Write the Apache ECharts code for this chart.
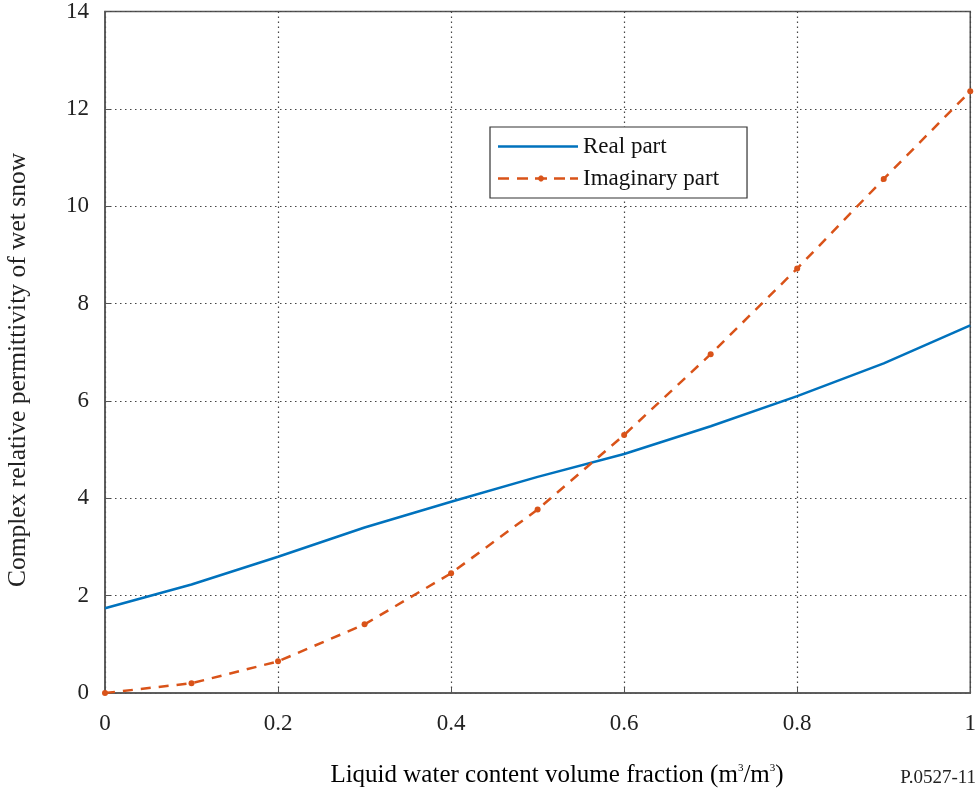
<!DOCTYPE html>
<html>
<head>
<meta charset="utf-8">
<script src="https://cdn.jsdelivr.net/npm/echarts@6/dist/echarts.min.js"></script>
<style>html,body{margin:0;padding:0;background:#fff;}#c{width:979px;height:794px;}</style>
</head>
<body>
<div id="c"></div>
<script>
var xValues = [0, 0.1, 0.2, 0.3, 0.4, 0.5, 0.6, 0.7, 0.8, 0.9, 1.0];
var realPart = [1.74, 2.23, 2.80, 3.40, 3.93, 4.44, 4.91, 5.48, 6.10, 6.77, 7.55];
var imagPart = [0.0, 0.20, 0.65, 1.41, 2.46, 3.77, 5.30, 6.96, 8.72, 10.56, 12.36];
var seriesNames = ['Real part', 'Imaginary part'];

var chart = echarts.init(document.getElementById('c'));
var font = '"Liberation Serif", "Times New Roman", serif';
function pairs(ys){ return xValues.map(function(x,i){ return [x, ys[i]]; }); }
var solidIcon = 'path://M0,0L0,0M80,12L80,12M0,4.8L80,4.8L80,7.2L0,7.2Z';
var dashIcon = 'path://M0,0L0,0M80,12L80,12' +
  'M0,4.8h11v2.4h-11Z M19,4.8h11v2.4h-11Z M37,4.8h12v2.4h-12Z M56,4.8h11v2.4h-11Z M72,4.8h8v2.4h-8Z' +
  'M42,3L44,3L46,5L46,7L44,9L42,9L40,7L40,5Z';
chart.setOption({
  backgroundColor: '#fff',
  animation: false,
  textStyle: {fontFamily: font},
  grid: {left: 105, right: 5, top: 8, bottom: 101, show: true, borderColor: '#555', borderWidth: 1.5, containLabel: false},
  legend: {
    left: 490, top: 127, orient: 'vertical', itemWidth: 80, itemHeight: 12, itemGap: 9,
    padding: [8, 28, 8, 8], borderColor: '#333', borderWidth: 1.2, backgroundColor: '#fff',
    textStyle: {fontFamily: font, fontSize: 23, color: '#111'},
    data: [{name: seriesNames[0], icon: solidIcon}, {name: seriesNames[1], icon: dashIcon}]
  },
  xAxis: {
    type: 'value', min: 0, max: 1, interval: 0.2,
    axisLine: {show: true, lineStyle: {color: '#555', width: 1.5}},
    axisTick: {show: true, inside: true, length: 5, lineStyle: {color: '#555'}},
    axisLabel: {fontFamily: font, fontSize: 23, color: '#222', margin: 19,
      formatter: function(v){ return v === 0 ? '0' : (v === 1 ? '1' : String(Math.round(v*10)/10)); }},
    splitLine: {show: true, lineStyle: {color: '#444', type: [1.5, 3.5], width: 1.2}}
  },
  yAxis: {
    type: 'value', min: 0, max: 14, interval: 2,
    axisLine: {show: true, lineStyle: {color: '#555', width: 1.5}},
    axisTick: {show: true, inside: true, length: 5, lineStyle: {color: '#555'}},
    axisLabel: {fontFamily: font, fontSize: 23, color: '#222', margin: 16},
    splitLine: {show: true, lineStyle: {color: '#444', type: [1.5, 3.5], width: 1.2}}
  },
  graphic: [
    {type: 'text', rotation: Math.PI/2, x: 18, y: 370,
      style: {text: 'Complex relative permittivity of wet snow', fontFamily: font, fontSize: 25.5, fill: '#222', textAlign: 'center', textVerticalAlign: 'middle'}},
    {type: 'text', x: 557, y: 775,
      style: {text: '{n|Liquid water content volume fraction (m}{s|3}{n|/m}{s|3}{n|)}', textAlign: 'center', textVerticalAlign: 'middle',
        rich: {n: {fontFamily: font, fontSize: 25, color: '#222'}, s: {fontFamily: font, fontSize: 11, color: '#222', padding: [0,0,14,0]}}}},
    {type: 'text', x: 976, y: 778,
      style: {text: 'P.0527-11', fontFamily: font, fontSize: 19, fill: '#222', textAlign: 'right', textVerticalAlign: 'middle'}}
  ],
  series: [
    {name: seriesNames[0], type: 'line', data: pairs(realPart), showSymbol: false, symbol: 'none',
      lineStyle: {color: '#0072BD', width: 2.5}, itemStyle: {color: '#0072BD'}},
    {name: seriesNames[1], type: 'line', data: pairs(imagPart), symbol: 'circle', symbolSize: 6,
      lineStyle: {color: '#D95319', width: 2.5, type: [10, 8]}, itemStyle: {color: '#D95319'}}
  ]
});
</script>
</body>
</html>
